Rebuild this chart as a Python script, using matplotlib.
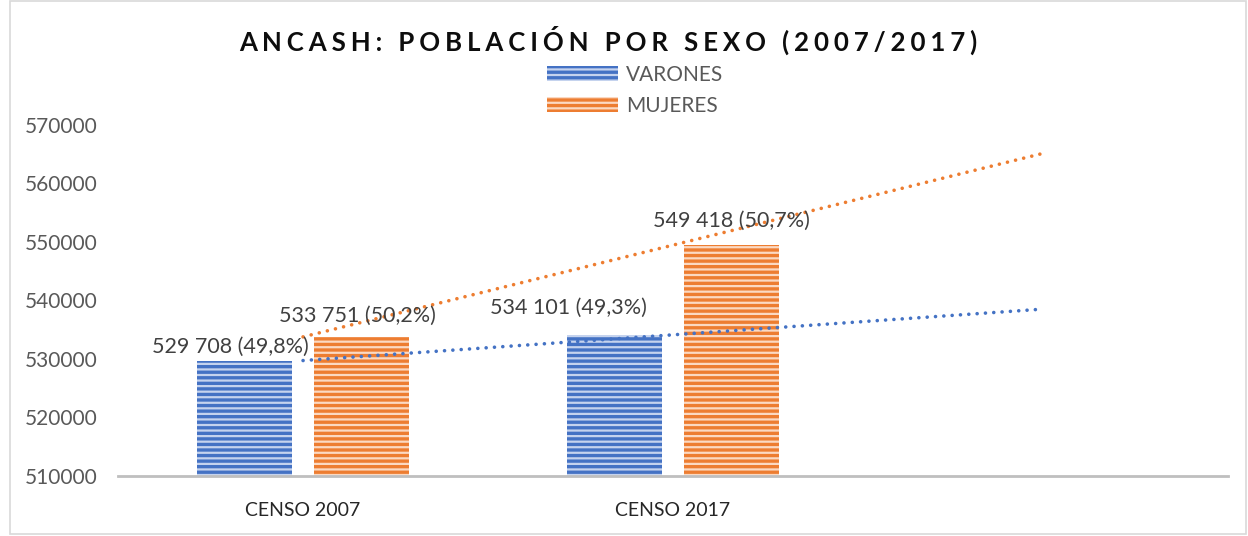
import numpy as np
import matplotlib.pyplot as plt
from matplotlib.patches import Rectangle

plt.rcParams['font.family'] = ['Lato', 'DejaVu Sans']
plt.rcParams['hatch.linewidth'] = 1.6

# data
categories = ['CENSO 2007', 'CENSO 2017', '']
varones = [529708, 534101]
mujeres = [533751, 549418]
varones_lbl = ['529 708 (49,8%)', '534 101 (49,3%)']
mujeres_lbl = ['533 751 (50,2%)', '549 418 (50,7%)']
yticks = [510000, 520000, 530000, 540000, 550000, 560000, 570000]

blue = '#4472C4'
orange = '#ED7D31'
gray = '#595959'

fig = plt.figure(figsize=(12.48, 5.36), dpi=100)
fig.patches.append(Rectangle((0.008, 0.004), 0.99, 0.994, transform=fig.transFigure,
                             fill=False, edgecolor='#d9d9d9', linewidth=1.2))
ax = fig.add_axes([0.0946, 0.112, 0.8894, 0.6556])

x = np.arange(len(varones))
w = 0.257
off = 0.158
b1 = ax.bar(x - off, [v - yticks[0] for v in varones], w, bottom=yticks[0], color=blue,
            edgecolor='#c5d3ee', linewidth=0, hatch='---', label='VARONES', zorder=2)
b2 = ax.bar(x + off, [v - yticks[0] for v in mujeres], w, bottom=yticks[0], color=orange,
            edgecolor='#fbd9c2', linewidth=0, hatch='---', label='MUJERES', zorder=2)

# linear trend lines, forecast one period forward
xt = np.array([0, 1, 2])
for vals, c in [(varones, blue), (mujeres, orange)]:
    p = np.polyfit(x, vals, 1)
    ax.plot(xt, np.polyval(p, xt), color=c, linewidth=2.6,
            linestyle=(0, (0.01, 2.3)), dash_capstyle='round', zorder=3)

# data labels (offsets in points)
blue_offsets = [(-10, 3), (-33, 12)]
orange_offsets = [(-3, 8), (0, 10)]
for i, v in enumerate(varones):
    ax.annotate(varones_lbl[i], (x[i] - off, v), xytext=blue_offsets[i], textcoords='offset points',
                ha='center', va='bottom', fontsize=15.5, color='#404040', zorder=4)
for i, v in enumerate(mujeres):
    ax.annotate(mujeres_lbl[i], (x[i] + off, v), xytext=orange_offsets[i], textcoords='offset points',
                ha='center', va='bottom', fontsize=15.5, color='#404040', zorder=4)

ax.set_xlim(-0.5, 2.5)
ax.set_ylim(510000, 570000)
ax.set_yticks(yticks)
ax.set_yticklabels([str(t) for t in yticks], fontsize=15, color=gray)
ax.set_xticks(np.arange(len(categories)))
ax.set_xticklabels(categories, fontsize=14, color='#262626')
ax.tick_params(axis='both', length=0)
ax.tick_params(axis='y', pad=15)
ax.tick_params(axis='x', pad=19)
for s in ['top', 'right', 'left']:
    ax.spines[s].set_visible(False)
ax.spines['bottom'].set_color('#bfbfbf')
ax.spines['bottom'].set_linewidth(2)

title = 'ANCASH: POBLACIÓN POR SEXO (2007/2017)'
fig.text(0.487, 0.925, '\u2009\u200a'.join(title), ha='center', va='center', fontsize=18.6,
         fontweight='bold', color='#0d0d0d')

leg = fig.legend(handles=[b1, b2], loc='upper center', bbox_to_anchor=(0.509, 0.898),
                 ncol=1, frameon=False, fontsize=15, handlelength=3.4, handleheight=0.75,
                 labelspacing=0.5, handletextpad=0.4, borderpad=0)
for t in leg.get_texts():
    t.set_color(gray)

fig.savefig('out.png', dpi=100)
